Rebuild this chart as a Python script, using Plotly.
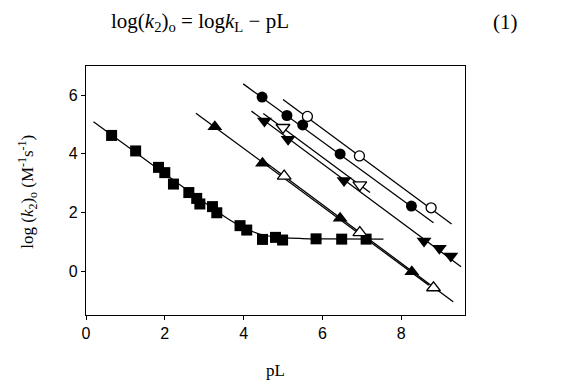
import plotly.graph_objects as go

# ---- data ----
sq_x = [0.65, 1.26, 1.84, 2.0, 2.22, 2.61, 2.81, 2.89, 3.21, 3.32, 3.91, 4.08, 4.48, 4.81, 4.99, 5.84, 6.49, 7.11]
sq_y = [4.63, 4.10, 3.54, 3.36, 2.97, 2.68, 2.48, 2.29, 2.20, 1.99, 1.55, 1.40, 1.08, 1.15, 1.06, 1.10, 1.09, 1.09]
sq_fit_x = [0.19, 1.0, 2.0, 3.0, 3.65, 4.0, 4.5, 5.0, 5.5, 6.0, 7.55]
sq_fit_y = [5.10, 4.30, 3.32, 2.35, 1.74, 1.48, 1.23, 1.14, 1.11, 1.10, 1.09]

fc_x = [4.47, 5.10, 5.50, 6.45, 8.26]
fc_y = [5.94, 5.31, 4.99, 4.00, 2.22]
fc_fit_x = [3.99, 8.82]
fc_fit_y = [6.39, 1.65]

oc_x = [5.62, 6.94, 8.76]
oc_y = [5.28, 3.93, 2.16]
oc_fit_x = [5.00, 9.28]
oc_fit_y = [5.86, 1.61]

fd_x = [4.53, 5.13, 6.55, 8.58, 8.97, 9.26]
fd_y = [5.12, 4.50, 3.09, 1.03, 0.78, 0.51]
fd_fit_x = [4.20, 9.52]
fd_fit_y = [5.46, 0.15]

od_x = [5.00, 6.95]
od_y = [4.90, 2.94]
od_fit_x = [4.50, 7.21]
od_fit_y = [5.38, 2.68]

fu_x = [3.27, 4.48, 6.45, 8.27]
fu_y = [4.93, 3.68, 1.80, -0.02]
fu_fit_x = [2.79, 8.70]
fu_fit_y = [5.39, -0.48]

ou_x = [5.03, 6.95, 8.82]
ou_y = [3.24, 1.31, -0.57]
ou_fit_x = [4.45, 9.32]
ou_fit_y = [3.82, -1.05]

x_ticks = [0, 2, 4, 6, 8]
y_ticks = [0, 2, 4, 6]

fig = go.Figure()

line_style = dict(color="black", width=1.3)
for fx, fy in [(fc_fit_x, fc_fit_y), (oc_fit_x, oc_fit_y), (fd_fit_x, fd_fit_y),
               (od_fit_x, od_fit_y), (fu_fit_x, fu_fit_y), (ou_fit_x, ou_fit_y)]:
    fig.add_trace(go.Scatter(x=fx, y=fy, mode="lines", line=line_style,
                             showlegend=False, hoverinfo="skip"))
fig.add_trace(go.Scatter(x=sq_fit_x, y=sq_fit_y, mode="lines",
                         line=dict(color="black", width=1.2, shape="spline"),
                         showlegend=False, hoverinfo="skip"))

def pts(x, y, symbol, filled, size):
    fig.add_trace(go.Scatter(
        x=x, y=y, mode="markers", showlegend=False,
        marker=dict(symbol=symbol, size=size,
                    color="black" if filled else "white",
                    line=dict(color="black", width=0 if filled else 1.3))))

pts(sq_x, sq_y, "square", True, 11)
pts(fc_x, fc_y, "circle", True, 11)
pts(oc_x, oc_y, "circle", False, 10)
pts(fd_x, fd_y, "triangle-down", True, 13)
pts(od_x, od_y, "triangle-down", False, 12)
pts(fu_x, fu_y, "triangle-up", True, 13)
pts(ou_x, ou_y, "triangle-up", False, 12)

axis_common = dict(showline=True, linecolor="black", linewidth=1.3, mirror=True,
                   ticks="outside", ticklen=4, tickwidth=1, tickcolor="black",
                   showgrid=False, zeroline=False,
                   tickfont=dict(family="Arial, Liberation Sans", size=16, color="black"))

serif = "Liberation Serif, Times New Roman"

fig.update_layout(
    width=552, height=373,
    margin=dict(l=78, r=95, t=58, b=66),
    paper_bgcolor="white", plot_bgcolor="white",
    xaxis=dict(range=[0, 9.62], tickvals=x_ticks, **axis_common),
    yaxis=dict(range=[-1.5, 7.0], tickvals=y_ticks, **axis_common),
    annotations=[
        dict(text="pL", xref="paper", yref="paper", x=0.5, y=-0.222,
             xanchor="center", yanchor="middle",
             showarrow=False, font=dict(family=serif, size=17, color="black")),
        dict(text="log (<i>k</i><sub>2</sub>)<sub>o</sub> (M<sup>-1</sup>s<sup>-1</sup>)",
             xref="paper", yref="paper", x=-0.153, y=0.495, textangle=-90,
             xanchor="center", yanchor="middle",
             showarrow=False, font=dict(family=serif, size=17, color="black")),
        dict(text="log(<i>k</i><sub>2</sub>)<sub>o</sub> = log<i>k</i><sub>L</sub> − pL",
             xref="paper", yref="paper", x=0.301, y=1.177,
             xanchor="center", yanchor="middle",
             showarrow=False, font=dict(family=serif, size=21, color="black")),
        dict(text="(1)", xref="paper", yref="paper", x=1.108, y=1.177,
             xanchor="center", yanchor="middle",
             showarrow=False, font=dict(family=serif, size=21, color="black")),
    ],
)

fig.write_html("out.html")
